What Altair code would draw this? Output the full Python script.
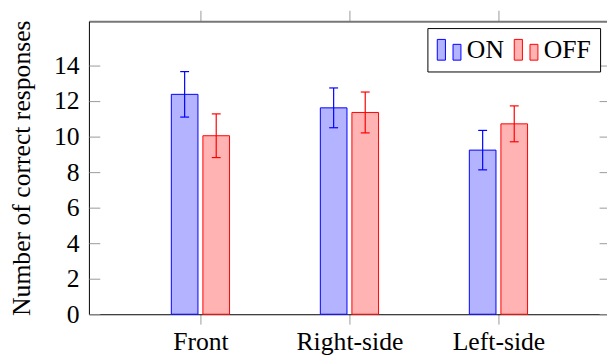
import altair as alt
import pandas as pd

categories = ["Front", "Right-side", "Left-side"]
series_names = ["ON", "OFF"]
on_means = [12.38, 11.62, 9.24]
on_errs = [1.28, 1.12, 1.11]
off_means = [10.05, 11.36, 10.72]
off_errs = [1.23, 1.15, 1.01]
y_ticks = [0, 2, 4, 6, 8, 10, 12, 14]
fill_colors = ["#b3b3ff", "#ffb3b3"]
stroke_colors = ["#0000ff", "#ff0000"]

rows = []
for i, c in enumerate(categories):
    rows.append({"category": c, "idx": i + 1, "series": "ON", "mean": on_means[i], "err": on_errs[i]})
    rows.append({"category": c, "idx": i + 1, "series": "OFF", "mean": off_means[i], "err": off_errs[i]})
df = pd.DataFrame(rows)

W, H = 525, 297
PX = 151.0  # pixels per category unit
xmin = 1 - 113.0 / PX
xmax = xmin + W / PX
shift = 16.0 / PX
half = 13.5 / PX
cap = 4.5 / PX
FONT = "Liberation Serif"
FS = 26

label_expr = " : ".join(
    [f"datum.value == {i+1} ? '{c}'" for i, c in enumerate(categories)]
) + " : ''"

xscale = alt.Scale(domain=[xmin, xmax], nice=False, zero=False)
yscale = alt.Scale(domain=[0, 16.5], nice=False)
fill_scale = alt.Scale(domain=series_names, range=fill_colors)
stroke_scale = alt.Scale(domain=series_names, range=stroke_colors)

legend_def = alt.Legend(
    title=None,
    orient="none",
    legendX=343,
    legendY=7,
    direction="horizontal",
    strokeColor="black",
    fillColor="white",
    padding=9,
    labelFont=FONT,
    labelFontSize=FS,
    labelColor="black",
    labelOffset=5,
    columnPadding=8,
    symbolType="M-1,-0.875H-0.31V0.875H-1Z M0.33,-0.46H1V0.875H0.33Z",
    symbolSize=576,
    symbolStrokeWidth=1,
    cornerRadius=0,
)

base = alt.Chart(df).transform_calculate(
    center=f"datum.idx + (datum.series == 'ON' ? -{shift} : {shift})",
    zero="0",
    lo="datum.mean - datum.err",
    hi="datum.mean + datum.err",
).transform_calculate(
    bx1=f"datum.center - {half}",
    bx2=f"datum.center + {half}",
    c1=f"datum.center - {cap}",
    c2=f"datum.center + {cap}",
)

bars = base.mark_bar(strokeWidth=1).encode(
    x=alt.X(
        "bx1:Q",
        scale=xscale,
        axis=alt.Axis(
            orient="bottom", values=[1, 2, 3], labelExpr=label_expr, title=None,
            tickSize=10, tickColor="#999999", tickWidth=1, domainColor="black",
            domainWidth=1, labelFont=FONT, labelFontSize=FS, labelColor="black",
            labelPadding=5, grid=False, labelFlush=False,
        ),
    ),
    x2="bx2:Q",
    y=alt.Y(
        "mean:Q",
        scale=yscale,
        axis=alt.Axis(
            orient="left", values=y_ticks, format="d", tickSize=0, labelPadding=10,
            domainColor="black", domainWidth=1, labelFont=FONT, labelFontSize=FS,
            labelColor="black", grid=False, title="Number of correct responses",
            titleFont=FONT, titleFontSize=FS, titleFontWeight="normal",
            titleColor="black", titleX=-68, titleBaseline="middle",
        ),
    ),
    y2="zero:Q",
    fill=alt.Fill("series:N", scale=fill_scale, legend=legend_def),
    stroke=alt.Stroke("series:N", scale=stroke_scale, legend=legend_def),
)

err = base.mark_rule(strokeWidth=1.2).encode(
    x=alt.X(
        "center:Q",
        axis=alt.Axis(
            orient="top", values=[1, 2, 3], labels=False, title=None, tickSize=11,
            tickColor="#999999", tickWidth=1, domainColor="#777777", domainWidth=2,
            grid=False,
        ),
    ),
    y=alt.Y(
        "lo:Q",
        axis=alt.Axis(
            orient="right", offset=-W, values=y_ticks, labels=False, title=None,
            tickSize=11, tickColor="#999999", tickWidth=1, domain=False, grid=False,
        ),
    ),
    y2="hi:Q",
    stroke=alt.Stroke("series:N", scale=stroke_scale, legend=None),
)

cap_top = base.mark_rule(strokeWidth=1.2).encode(
    x=alt.X("c1:Q", axis=None),
    x2="c2:Q",
    y=alt.Y(
        "hi:Q",
        axis=alt.Axis(
            orient="left", offset=-528, values=y_ticks, labels=False, title=None,
            tickSize=11, tickColor="#999999", tickWidth=1, domainColor="#777777",
            domainWidth=2, grid=False,
        ),
    ),
    stroke=alt.Stroke("series:N", scale=stroke_scale, legend=None),
)

cap_bot = base.mark_rule(strokeWidth=1.2).encode(
    x=alt.X("c1:Q", axis=None),
    x2="c2:Q",
    y=alt.Y("lo:Q", axis=None),
    stroke=alt.Stroke("series:N", scale=stroke_scale, legend=None),
)

chart = (
    alt.layer(bars, err, cap_top, cap_bot)
    .resolve_axis(x="independent", y="independent")
    .properties(
        width=W,
        height=H,
        autosize=alt.AutoSizeParams(type="none"),
        padding={"left": 82, "top": 11, "right": 0, "bottom": 42},
        background="white",
    )
    .configure_view(stroke="transparent")
)

chart.save("out.html", embed_options={"renderer": "svg", "actions": False})
